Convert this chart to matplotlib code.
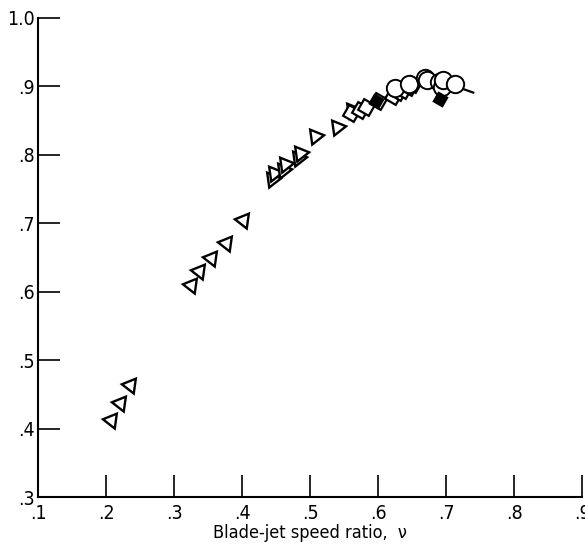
import matplotlib
matplotlib.use("Agg")
import matplotlib.pyplot as plt
from matplotlib.ticker import FixedLocator

plt.rcParams['font.family'] = ['DejaVu Sans']
plt.rcParams['font.stretch'] = 'condensed'

# left-pointing triangles (low speed ratio runs)
tri_l_x = [0.208, 0.220, 0.235, 0.325, 0.337, 0.354, 0.377, 0.401]
tri_l_y = [0.413, 0.437, 0.463, 0.610, 0.631, 0.650, 0.671, 0.705]

# right-pointing triangles
tri_r_x = [0.444, 0.447, 0.460, 0.463, 0.482, 0.485, 0.507, 0.539, 0.561]
tri_r_y = [0.765, 0.773, 0.778, 0.787, 0.795, 0.803, 0.828, 0.840, 0.866]

# open diamonds
dia_x = [0.560, 0.574, 0.583, 0.600, 0.622, 0.630, 0.637, 0.645, 0.652]
dia_y = [0.861, 0.866, 0.870, 0.878, 0.886, 0.892, 0.895, 0.899, 0.903]

# filled diamonds
fdia_x = [0.597, 0.691]
fdia_y = [0.878, 0.882]

# open circles
circ_x = [0.625, 0.646, 0.669, 0.672, 0.690, 0.694, 0.696, 0.713]
circ_y = [0.897, 0.903, 0.913, 0.910, 0.906, 0.899, 0.909, 0.904]

# faired curve
curve_x = [0.560, 0.600, 0.640, 0.670, 0.700, 0.720, 0.740]
curve_y = [0.859, 0.879, 0.897, 0.905, 0.903, 0.898, 0.891]

fig = plt.figure(figsize=(5.85, 5.45), dpi=100)
ax = fig.add_axes([0.065, 0.088, 0.93, 0.879])

ax.plot(curve_x, curve_y, color='black', lw=1.6, zorder=1)
ax.plot(tri_l_x, tri_l_y, ls='none', marker=(3, 0, 82), ms=12.5, mfc='white',
        mec='black', mew=1.7, zorder=2)
ax.plot(tri_r_x, tri_r_y, ls='none', marker=(3, 0, -82), ms=12.5, mfc='white',
        mec='black', mew=1.7, zorder=2)
ax.plot(dia_x, dia_y, ls='none', marker=(4, 0, 15), ms=12.5, mfc='white',
        mec='black', mew=1.6, zorder=3)
ax.plot(circ_x, circ_y, ls='none', marker='o', ms=12.5, mfc='white',
        mec='black', mew=1.4, zorder=4)
ax.plot(fdia_x, fdia_y, ls='none', marker=(4, 0, 15), ms=10.5, mfc='black',
        mec='black', mew=1.2, zorder=5)

ax.set_xlim(0.1, 0.9)
ax.set_ylim(0.3, 1.0)
xt = [0.1, 0.2, 0.3, 0.4, 0.5, 0.6, 0.7, 0.8, 0.9]
yt = [0.3, 0.4, 0.5, 0.6, 0.7, 0.8, 0.9, 1.0]
ax.xaxis.set_major_locator(FixedLocator(xt))
ax.yaxis.set_major_locator(FixedLocator(yt))
ax.set_xticklabels(['.1', '.2', '.3', '.4', '.5', '.6', '.7', '.8', '.9'])
ax.set_yticklabels(['.3', '.4', '.5', '.6', '.7', '.8', '.9', '1.0'])
ax.tick_params(direction='in', length=16, width=1.2, labelsize=14, pad=2)
ax.tick_params(axis='x', pad=5)

for s in ['top', 'right']:
    ax.spines[s].set_visible(False)
for s in ['left', 'bottom']:
    ax.spines[s].set_linewidth(1.5)

ax.set_xlabel('Blade-jet speed ratio,  \u03bd', fontsize=13, labelpad=1)

fig.savefig('out.png', dpi=100)
